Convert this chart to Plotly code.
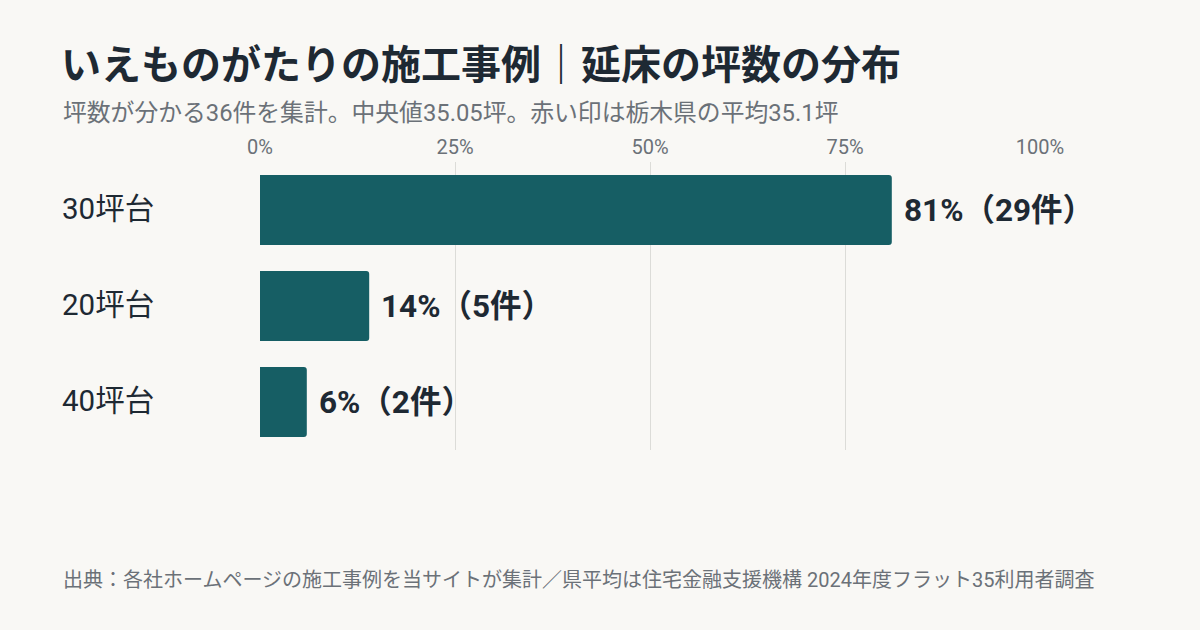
import plotly.graph_objects as go

categories = ["30坪台", "20坪台", "40坪台"]
counts = [29, 5, 2]
total = 36
tick_vals = [0, 25, 50, 75, 100]
tick_text = ["0%", "25%", "50%", "75%", "100%"]

title = "いえものがたりの施工事例｜延床の坪数の分布"
subtitle = "坪数が分かる36件を集計。中央値35.05坪。赤い印は栃木県の平均35.1坪"
source = "出典：各社ホームページの施工事例を当サイトが集計／県平均は住宅金融支援機構 2024年度フラット35利用者調査"

pcts = [round(c / total * 100) for c in counts]
labels = [f"{p}%（{c}件）" for p, c in zip(pcts, counts)]

FONT = "Roboto, 'Noto Sans CJK JP', sans-serif"
BG = "#f9f8f5"
BAR = "#165e64"
DARK = "#1e2933"
GRAY = "#6b7178"

W, H = 1200, 630
L, R, T, B = 260, 1040, 162, 450


def px_to_paper(xp, yp):
    return (xp - L) / (R - L), ((H - yp) - (H - B)) / (B - T)


fig = go.Figure(go.Bar(
    x=pcts, y=categories, orientation="h",
    marker=dict(color=BAR, cornerradius=3, line=dict(width=0)),
    hoverinfo="skip",
))

annotations = []
for cat, p, lab in zip(categories, pcts, labels):
    annotations.append(dict(
        x=p, y=cat, xref="x", yref="y", text=lab, showarrow=False,
        xanchor="left", yanchor="middle", xshift=10,
        font=dict(family=FONT, size=31.5, color=DARK, weight="bold"),
    ))
    annotations.append(dict(
        x=px_to_paper(60, 0)[0], y=cat, xref="paper", yref="y", text=cat,
        showarrow=False, xanchor="left", yanchor="middle", yshift=1,
        font=dict(family=FONT, size=29.5, color=DARK),
    ))

sx, sy = px_to_paper(61, 113)
annotations.append(dict(
    x=sx, y=sy, xref="paper", yref="paper", text=subtitle,
    showarrow=False, xanchor="left", yanchor="middle",
    font=dict(family=FONT, size=23.8, color=GRAY),
))
fx, fy = px_to_paper(61, 580)
annotations.append(dict(
    x=fx, y=fy, xref="paper", yref="paper", text=source,
    showarrow=False, xanchor="left", yanchor="middle",
    font=dict(family=FONT, size=20, color=GRAY),
))

fig.update_layout(
    width=W, height=H,
    margin=dict(l=L, r=W - R, t=T, b=H - B, pad=0),
    paper_bgcolor=BG, plot_bgcolor=BG,
    showlegend=False,
    bargap=0.27,
    title=dict(
        text=title, x=61 / W, xref="container", xanchor="left",
        y=1 - 65 / H, yref="container", yanchor="middle",
        font=dict(family=FONT, size=40, color=DARK, weight="bold"),
    ),
    xaxis=dict(
        range=[0, 100], side="top", tickvals=tick_vals, ticktext=tick_text,
        showgrid=True, gridcolor="#dcdcd8", gridwidth=1, zeroline=False,
        showline=False, ticks="", ticklen=0,
        tickfont=dict(family=FONT, size=20, color=GRAY),
        ticklabelstandoff=3,
        fixedrange=True,
    ),
    yaxis=dict(
        categoryorder="array", categoryarray=categories, autorange="reversed",
        showticklabels=False, showgrid=False, zeroline=False, showline=False,
        ticks="", fixedrange=True,
    ),
    annotations=annotations,
)

fig.write_html(
    "out.html",
    config={"displayModeBar": False},
    post_script="document.body.style.margin='0';document.body.style.overflow='hidden';",
)
